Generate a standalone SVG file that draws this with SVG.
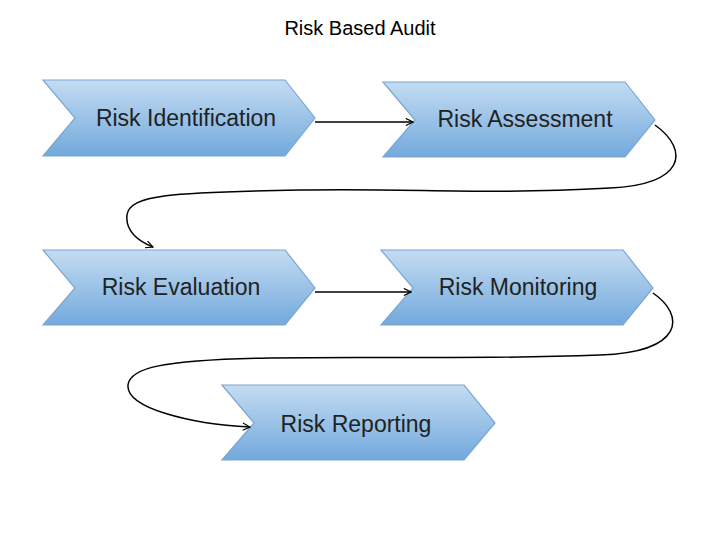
<svg xmlns="http://www.w3.org/2000/svg" width="720" height="540" viewBox="0 0 720 540">
<defs>
<linearGradient id="g" x1="0" y1="0" x2="0" y2="1">
<stop offset="0" stop-color="#c4dcf2"/><stop offset="1" stop-color="#72a9dc"/>
</linearGradient>
<marker id="a" viewBox="0 0 10 10" refX="9" refY="5" markerWidth="9" markerHeight="9" orient="auto" markerUnits="userSpaceOnUse">
<path d="M1,1 L9,5 L1,9" fill="none" stroke="#000" stroke-width="1.3"/>
</marker>
</defs>
<style>
.n{fill:url(#g);stroke:#7aa6d2;stroke-width:1.2}
.t{font-family:"Liberation Sans",Arial,sans-serif;font-size:23px;fill:#222;text-anchor:middle}
.c{fill:none;stroke:#000;stroke-width:1.5;marker-end:url(#a)}
</style>
<rect width="720" height="540" fill="#fff"/>
<text x="360" y="35" font-family="Liberation Sans,Arial,sans-serif" font-size="20" text-anchor="middle" fill="#000">Risk Based Audit</text>
<g id="n1"><path class="n" d="M43,80 H285 L315,118 L285,156 H43 L75,118 Z"/><text class="t" x="186" y="126">Risk Identification</text></g>
<g id="n2"><path class="n" d="M383,82 H625 L655,120 L625,157 H383 L415,120 Z"/><text class="t" x="525" y="127">Risk Assessment</text></g>
<g id="n3"><path class="n" d="M43,250 H285 L315,288 L285,325 H43 L75,288 Z"/><text class="t" x="181" y="295">Risk Evaluation</text></g>
<g id="n4"><path class="n" d="M381,250 H623 L653,288 L623,325 H381 L413,288 Z"/><text class="t" x="518" y="295">Risk Monitoring</text></g>
<g id="n5"><path class="n" d="M222,385 H464 L495,423 L464,460 H222 L254,423 Z"/><text class="t" x="356" y="432">Risk Reporting</text></g>
<g id="connectors">
<path class="c" d="M315,122 H413"/>
<path class="c" d="M315,292 H411"/>
<path class="c" d="M655,125 C690,150 685,185 610,188 C480,195 420,188 300,190 C170,192 130,195 127,215 C125,232 140,242 153,247"/>
<path class="c" d="M653,293 C685,315 685,352 600,355 C460,360 400,356 270,358 C160,360 130,368 128,385 C126,408 190,424 250,427"/>
</g>
</svg>
